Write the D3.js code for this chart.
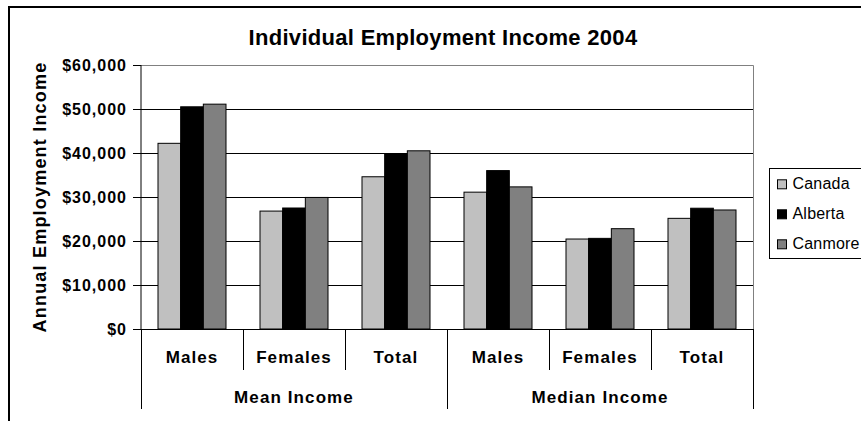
<!DOCTYPE html>
<html>
<head>
<meta charset="utf-8">
<script src="https://cdn.jsdelivr.net/npm/d3@7/dist/d3.min.js"></script>
<style>
  html, body { margin: 0; padding: 0; background: #fff; }
  svg { display: block; font-family: "Liberation Sans", Arial, sans-serif; }
</style>
</head>
<body>
<svg id="chart" width="861" height="421"></svg>
<script>
// Income measures and the sub-categories shown under each
const groups = ["Mean Income", "Median Income"];
const subCategories = ["Males", "Females", "Total"];
const seriesNames = ["Canada", "Alberta", "Canmore"];

// Annual employment income, 2004 (order: Mean M/F/T, Median M/F/T)
const canada  = [42200, 26800, 34600, 31100, 20450, 25150];
const alberta = [50500, 27500, 39800, 36000, 20600, 27450];
const canmore = [51100, 29900, 40500, 32300, 22800, 27050];

const yTicks = [0, 10000, 20000, 30000, 40000, 50000, 60000];
const seriesColors = ["#c0c0c0", "#000000", "#808080"];

const svg = d3.select("#chart");
const plot = { left: 141, right: 753, top: 65, bottom: 329 };

// outer chart frame
svg.append("rect")
  .attr("x", 9).attr("y", 7).attr("width", 880).attr("height", 440)
  .attr("fill", "#fff").attr("stroke", "#000").attr("stroke-width", 2);

// title
svg.append("text")
  .attr("x", 443).attr("y", 45)
  .attr("text-anchor", "middle")
  .attr("font-size", 22).attr("font-weight", "bold")
  .attr("letter-spacing", 0.3)
  .text("Individual Employment Income 2004");

const y = d3.scaleLinear().domain([0, 60000]).range([plot.bottom, plot.top]);

// each bar cluster gets a key combining group and sub-category
const keys = [];
groups.forEach(g => subCategories.forEach(s => keys.push(g + "|" + s)));
const values = [canada, alberta, canmore];
const rows = keys.map((k, i) => ({ key: k, vals: values.map(v => v[i]) }));

const x0 = d3.scaleBand().domain(keys).range([plot.left, plot.right])
  .paddingInner(1 / 3).paddingOuter(1 / 6);
const x1 = d3.scaleBand().domain(seriesNames).range([0, x0.bandwidth()]);
const step = x0.step();

// gridlines
svg.append("g")
  .attr("transform", `translate(${plot.left},0)`)
  .call(d3.axisLeft(y).tickValues(yTicks.slice(1, -1))
    .tickSize(-(plot.right - plot.left)).tickFormat(""))
  .call(g => g.select(".domain").remove())
  .call(g => g.selectAll("line").attr("stroke", "#000").attr("stroke-width", 1));

// plot border top/right (grey)
svg.append("path")
  .attr("d", `M${plot.left},${plot.top + 0.5}H${plot.right + 0.5}V${plot.bottom}`)
  .attr("fill", "none").attr("stroke", "#808080").attr("stroke-width", 1);

// bars
const cluster = svg.append("g").selectAll("g").data(rows).join("g")
  .attr("transform", d => `translate(${x0(d.key)},0)`);
cluster.selectAll("rect")
  .data(d => d.vals.map((v, i) => ({ name: seriesNames[i], v, i })))
  .join("rect")
  .attr("x", d => x1(d.name))
  .attr("y", d => y(d.v))
  .attr("width", x1.bandwidth())
  .attr("height", d => y(0) - y(d.v))
  .attr("fill", d => seriesColors[d.i])
  .attr("stroke", "#000").attr("stroke-width", 1);

// value axis
const yAxis = svg.append("g")
  .attr("transform", `translate(${plot.left},0)`)
  .call(d3.axisLeft(y).tickValues(yTicks).tickSize(8).tickPadding(6)
    .tickFormat(d3.format("$,")));
yAxis.select(".domain").attr("stroke", "#000").attr("d", `M0,${plot.top}V${plot.bottom}`);
yAxis.selectAll(".tick line").attr("stroke", "#000");
yAxis.selectAll("text")
  .attr("font-family", "Liberation Sans, Arial, sans-serif")
  .attr("font-size", 16).attr("font-weight", "bold")
  .attr("letter-spacing", 1).attr("fill", "#000");

// value axis title
svg.append("text")
  .attr("transform", `translate(46,${(plot.top + plot.bottom) / 2}) rotate(-90)`)
  .attr("text-anchor", "middle")
  .attr("font-size", 18).attr("font-weight", "bold")
  .attr("letter-spacing", 1.2)
  .text("Annual Employment Income");

// category axis line
svg.append("line")
  .attr("x1", plot.left).attr("x2", plot.right)
  .attr("y1", plot.bottom + 0.5).attr("y2", plot.bottom + 0.5)
  .attr("stroke", "#000");

// divider ticks between clusters; group edges run longer
const catAxis = svg.append("g");
d3.range(keys.length + 1).forEach(i => {
  const xp = Math.round(plot.left + i * step) + 0.5;
  const isGroupEdge = i % subCategories.length === 0;
  catAxis.append("line")
    .attr("x1", xp).attr("x2", xp)
    .attr("y1", plot.bottom).attr("y2", isGroupEdge ? 409 : 370)
    .attr("stroke", "#000").attr("stroke-width", 1);
});

// sub-category labels
catAxis.selectAll("text.sub").data(rows).join("text")
  .attr("class", "sub")
  .attr("x", d => x0(d.key) + x0.bandwidth() / 2)
  .attr("y", 363)
  .attr("text-anchor", "middle")
  .attr("font-size", 17).attr("font-weight", "bold")
  .attr("letter-spacing", 1.1)
  .text(d => d.key.split("|")[1]);

// group labels
catAxis.selectAll("text.grp").data(groups).join("text")
  .attr("class", "grp")
  .attr("x", (d, i) => plot.left + (i + 0.5) * step * subCategories.length)
  .attr("y", 402.5)
  .attr("text-anchor", "middle")
  .attr("font-size", 17).attr("font-weight", "bold")
  .attr("letter-spacing", 1.1)
  .text(d => d);

// legend
const legend = svg.append("g");
legend.append("rect")
  .attr("x", 769.5).attr("y", 168.5).attr("width", 120).attr("height", 90)
  .attr("fill", "#fff").attr("stroke", "#000").attr("stroke-width", 1);
const item = legend.selectAll("g.item").data(seriesNames).join("g")
  .attr("class", "item")
  .attr("transform", (d, i) => `translate(0,${189.3 + i * 30})`);
item.append("rect")
  .attr("x", 777.5).attr("y", -9.5).attr("width", 9).attr("height", 9)
  .attr("fill", (d, i) => seriesColors[i])
  .attr("stroke", "#000").attr("stroke-width", 1);
item.append("text")
  .attr("x", 792.5).attr("y", 0)
  .attr("font-size", 16).attr("letter-spacing", 0.2)
  .text(d => d);
</script>
</body>
</html>
